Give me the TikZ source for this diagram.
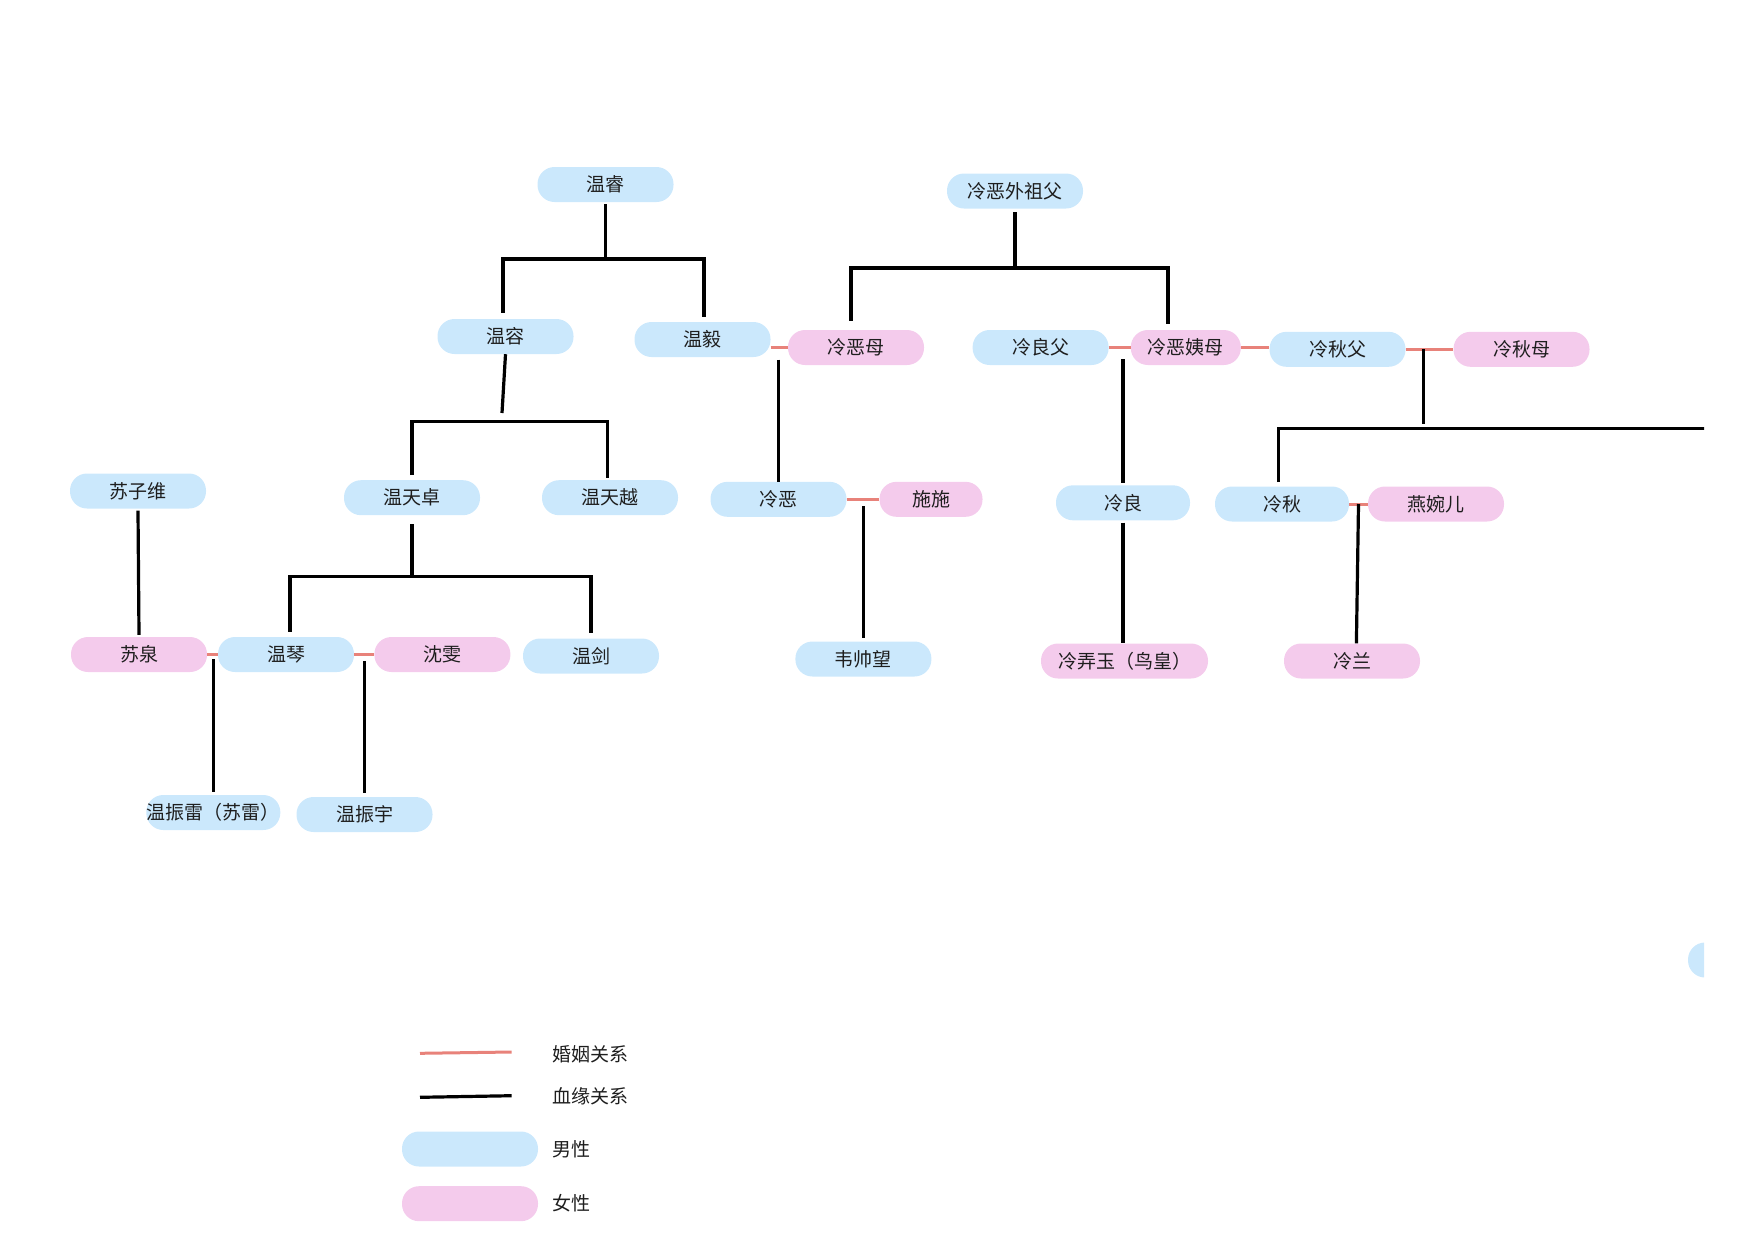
\documentclass[tikz,border=0pt]{standalone}
\usepackage{fontspec}
\setmainfont{Noto Sans CJK SC}
\usetikzlibrary{calc}
\definecolor{maleblue}{RGB}{203,232,252}
\definecolor{femalepink}{RGB}{244,203,236}
\definecolor{marrycol}{RGB}{232,130,122}
\definecolor{txt}{RGB}{30,30,30}

\begin{document}
\begin{tikzpicture}[x=1pt,y=-1pt,every node/.style={font=\fontsize{19}{19}\selectfont,text=txt},
	male/.style={rounded corners=17pt,fill=maleblue,minimum width=136pt,minimum height=35pt,inner sep=0pt},
	female/.style={male,fill=femalepink},
	legtext/.style={anchor=west,inner sep=0pt},
	blood/.style={line width=3.2pt},
	marry/.style={line width=3pt,marrycol}]

	\useasboundingbox (0,0) rectangle (1755,1240);
	\clip (0,0) rectangle (1704,1240);

	\node[male] (wr) at (605.5,184.5) {温睿};
	\node[male] (lwzf) at (1015,191) {冷恶外祖父};
	\node[male] (wrong) at (505.5,336.5) {温容};
	\node[male] (wy) at (702.5,339.5) {温毅};
	\node[female] (lem) at (856,347.5) {冷恶母};
	\node[male] (llf) at (1040.6,347.5) {冷良父};
	\node[female,minimum width=110pt] (leym) at (1185.8,347.5) {冷恶姨母};
	\node[male] (lqf) at (1337.5,349.3) {冷秋父};
	\node[female] (lqm) at (1521.5,349.3) {冷秋母};
	\node[male] (szw) at (138,491) {苏子维};
	\node[male] (wtz) at (412,497.7) {温天卓};
	\node[male] (wty) at (610,497.7) {温天越};
	\node[male] (le) at (778.5,499.3) {冷恶};
	\node[female,minimum width=103pt] (ss) at (931,499.3) {施施};
	\node[male,minimum width=134pt] (ll) at (1123,502.8) {冷良};
	\node[male,minimum width=134pt] (lq) at (1282,504) {冷秋};
	\node[female] (ywe) at (1436,504) {燕婉儿};
	\node[female] (sq) at (139,654.5) {苏泉};
	\node[male] (wq) at (286,654.5) {温琴};
	\node[female] (sw) at (442.4,654.5) {沈雯};
	\node[male] (wj) at (591,656) {温剑};
	\node[male] (wsw) at (863.4,659) {韦帅望};
	\node[female,minimum width=167pt] (lny) at (1124.5,661) {冷弄玉（鸟皇）};
	\node[female] (lan) at (1352,661) {冷兰};
	\node[male,minimum width=134pt] (wzl) at (213.3,812.5) {温振雷（苏雷）};
	\node[male] (wzy) at (364.5,814.5) {温振宇};
	\node[male] (rest) at (1756,960) {};

	\draw[marry] (wy.east |- lem.west) -- (lem.west) coordinate[midway] (m1);
	\draw[marry] (llf.east) -- (leym.west) coordinate[midway] (m3);
	\draw[marry] (leym.east) -- (leym.east -| lqf.west);
	\draw[marry] (lqf.east) -- (lqm.west);
	\draw[marry] (le.east) -- (ss.west) coordinate[midway] (m2);
	\draw[marry] (lq.east) -- (ywe.west) coordinate[midway] (m6);
	\draw[marry] (sq.east) -- (wq.west) coordinate[midway] (m7);
	\draw[marry] (wq.east) -- (sw.west) coordinate[midway] (m8);

	\coordinate (j1) at (605.5,259);
	\draw[blood] (j1) -- ([yshift=-2pt]wr.south);
	\draw[blood,shorten <=6pt,shorten >=5pt] ([xshift=-2.5pt]wrong.north) |- (j1) -| ([xshift=1.5pt]wy.north);

	\coordinate (j2t) at (502,413);
	\coordinate (j2) at (502,421.7);
	\draw[blood] (wrong.south) -- (j2t);
	\draw[blood,shorten <=5pt,shorten >=2.3pt] (wtz.north) |- (j2) -| ([xshift=-2.7pt]wty.north);

	\coordinate (j3) at (412,576.7);
	\draw[blood] ([yshift=-9pt]wtz.south) -- (j3);
	\draw[blood,shorten <=5pt,shorten >=5pt] ([xshift=4pt]wq.north) |- (j3) -| (wj.north);

	\draw[blood] ([yshift=-2pt]szw.south) -- ([yshift=2pt]sq.north);

	\coordinate (j4) at (1015,268);
	\draw[blood] (j4) -- ([yshift=-3pt]lwzf.south);
	\draw[blood,shorten <=9pt,shorten >=6pt] ([xshift=-5pt]lem.north) |- (j4) -| ([xshift=-17.8pt]leym.north);

	\draw[blood,shorten <=12pt] (le.north |- m1) -- (le.north);
	\draw[blood,shorten <=7pt,shorten >=3.4pt] (wsw.north |- m2) -- (wsw.north);
	\draw[blood,shorten <=11.5pt,shorten >=1.7pt] (ll.north |- m3) -- (ll.north);
	\draw[blood] ([yshift=-2pt]ll.south) -- (ll.south |- lny.north);

	\coordinate (j5) at (1423.3,428.3);
	\coordinate (rt) at (1760,428.3);
	\draw[blood] (j5 |- lqf.east) -- ([yshift=4pt]j5);
	\draw[blood,shorten <=4.3pt] ([xshift=-3.7pt]lq.north) |- (j5) -- (rt);
	\draw[blood] (m6) -- ([xshift=4.4pt]lan.north);

	\draw[blood,shorten <=4.5pt,shorten >=3.3pt] (wzl.north |- m7) -- (wzl.north);
	\draw[blood,shorten <=6.5pt,shorten >=4pt] (wzy.north |- m8) -- (wzy.north);

	\coordinate (la1) at (420,1053.3);
	\coordinate (la2) at (511.7,1052);
	\draw[marry] (la1) -- (la2);
	\node[legtext] (lt1) at (552,1054) {婚姻关系};
	\coordinate (lb1) at (420,1097.3);
	\coordinate (lb2) at (511.7,1095.7);
	\draw[blood] (lb1) -- (lb2);
	\node[legtext] (lt2) at (552,1096.7) {血缘关系};
	\node[male] (lgm) at (470,1149) {};
	\node[legtext] (lt3) at (552,1149.3) {男性};
	\node[female] (lgf) at (470,1203.7) {};
	\node[legtext] (lt4) at (552,1203.3) {女性};
\end{tikzpicture}
\end{document}
